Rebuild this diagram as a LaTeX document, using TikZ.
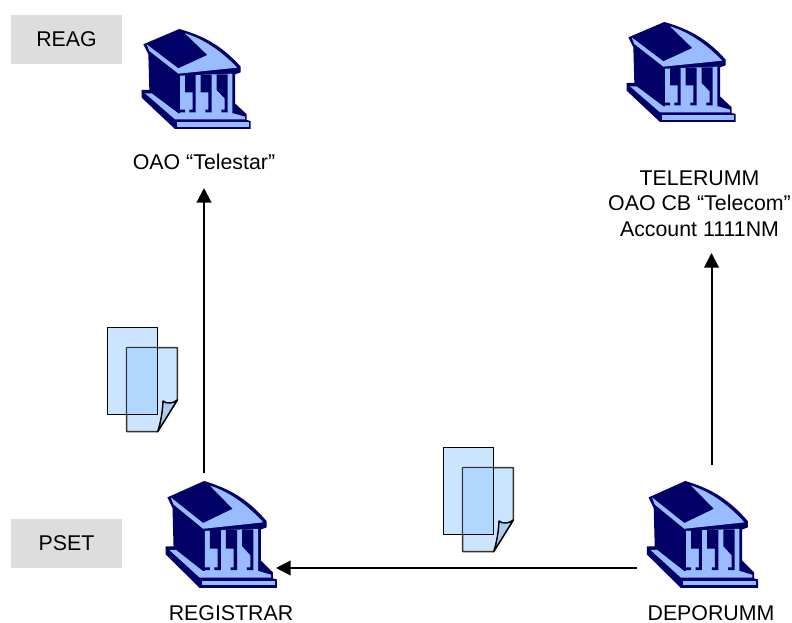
\documentclass[tikz,border=0pt]{standalone}
\usepackage{fontspec}
\setmainfont{Liberation Sans}
\usetikzlibrary{arrows.meta}
\definecolor{navy}{RGB}{0,0,102}
\definecolor{lb}{RGB}{153,187,255}
\definecolor{sheet}{RGB}{204,229,255}
\definecolor{overlap}{RGB}{174,213,255}
\definecolor{fold}{RGB}{170,205,240}
\definecolor{tag}{RGB}{221,221,221}
\tikzset{
  x=0.75pt,y=-0.75pt,
  lbl/.style={font=\fontsize{16}{19.1}\selectfont,align=center,inner sep=0pt,text=black},
  tagbox/.style={fill=tag,draw=none,minimum width=83.25pt,minimum height=36.75pt,inner sep=0pt,font=\fontsize{16}{19}\selectfont},
  link/.style={draw=black,line width=1.5pt,-{Triangle[length=11pt,width=11pt]}},
  bank/.pic={
    \begin{scope}[x=0.25pt,y=-0.25pt,line join=round]
      \fill[navy] (148,42) -- (40,88) -- (55,118) -- (58,225) -- (35,225) -- (35,248) -- (135,342) -- (362,342) -- (362,318) -- (350,315) -- (350,298) -- (315,265) -- (315,178) -- (332,172) -- (332,155) .. controls (270,85) and (210,60) .. cycle;
      \fill[lb] (50,88) -- (145,160) -- (232,120) -- (165,55) .. controls (230,75) and (280,115) .. (322,158) -- (145,176) -- (58,108) -- cycle;
      \fill[lb] (150,182) -- (307,176) -- (307,298) -- (150,298) -- cycle;
      \fill[navy] (165,180) -- (197,180) -- (197,292) -- (178,292) -- (178,284) -- (188,284) -- (188,232) -- (165,232) -- cycle;
      \fill[navy] (212,180) -- (245,180) -- (245,292) -- (226,292) -- (226,284) -- (235,284) -- (235,232) -- (212,232) -- cycle;
      \fill[navy] (260,178) -- (293,178) -- (293,292) -- (274,292) -- (274,284) -- (284,284) -- (284,250) -- (260,225) -- cycle;
      \fill[navy] (138,284) -- (150,284) -- (165,284) -- (165,292) -- (138,292) -- cycle;
      \fill[lb] (45,235) -- (65,235) -- (145,295) -- (310,295) -- (345,305) -- (345,313) -- (135,313) -- cycle;
      \fill[lb] (142,322) -- (356,322) -- (356,335) -- (142,335) -- cycle;
    \end{scope}
  },
  docs/.pic={
    \begin{scope}[x=0.25pt,y=-0.25pt,line join=round]
      \path[fill=sheet] (37,37) rectangle (188,298);
      \path[fill=sheet,draw=black!80,line width=1.1pt] (95,98) -- (247,98) -- (247,255) -- (188,350) -- (95,350) -- cycle;
      \path[fill=fold,draw=black,line width=1.1pt] (188,350) .. controls (198,320) and (203,285) .. (204,258) .. controls (215,268) and (235,265) .. (247,255) -- cycle;
      \fill[overlap,fill opacity=.85] (95,98) rectangle (188,298);
      \draw[black,line width=1.1pt] (37,37) rectangle (188,298);
    \end{scope}
  }
}
\begin{document}
\begin{tikzpicture}
\useasboundingbox (0,0) rectangle (792,623);
\fill[white] (0,0) rectangle (792,623);
\node[tagbox] (reag) at (66.5,39.5) {REAG};
\node[tagbox] (pset) at (66.5,543.5) {PSET};
\pic at (130,15) {bank};
\pic at (615,8) {bank};
\pic[xscale=1.02,yscale=1.07] at (153.8,466) {bank};
\pic[xscale=1.02,yscale=1.07] at (635,466) {bank};
\pic at (95,315) {docs};
\pic at (431,435) {docs};
\node[lbl] (telestar) at (204,162) {OAO “Telestar”};
\node[lbl] (telerumm) at (699.5,203.5) {TELERUMM\\OAO CB “Telecom”\\Account 1111NM};
\node[lbl] (registrar) at (231,613.5) {REGISTRAR};
\node[lbl] (deporumm) at (711,613.5) {DEPORUMM};
\coordinate (regtop) at (204,473);
\coordinate (regright) at (276,568);
\coordinate (deptop) at (711.5,465);
\coordinate (depleft) at (637,568);
\coordinate (telestarin) at (204,188);
\coordinate (telerummin) at (711.5,253);
\draw[link] (regtop) -- (telestarin);
\draw[link] (deptop) -- (telerummin);
\draw[link] (depleft) -- (regright);
\end{tikzpicture}
\end{document}
